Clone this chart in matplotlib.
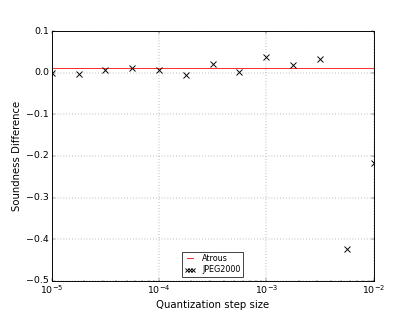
import matplotlib
matplotlib.use("Agg")
import matplotlib.pyplot as plt

plt.style.use('classic')

# quantization step sizes and soundness differences (JPEG2000 - reference)
step_sizes = [1.0e-5, 1.78e-5, 3.16e-5, 5.62e-5, 1.0e-4, 1.78e-4, 3.16e-4,
              5.62e-4, 1.0e-3, 1.78e-3, 3.16e-3, 5.62e-3, 1.0e-2]
jpeg2000 = [0.0, -0.002, 0.006, 0.011, 0.006, -0.006, 0.021,
            0.001, 0.037, 0.018, 0.032, -0.423, -0.218]
atrous = 0.0127

fig = plt.figure(figsize=(415 / 52, 6), dpi=52, facecolor='white')
ax = fig.add_subplot(111)

ax.axhline(atrous, color='#ff3030', lw=1.4, label='Atrous')
ax.plot(step_sizes, jpeg2000, 'kx', linestyle='none', ms=7, mew=1.3,
        label='JPEG2000')

ax.set_xscale('log')
ax.set_xlim(1e-5, 1e-2)
ax.set_ylim(-0.5, 0.1)
ax.set_xlabel('Quantization step size', fontsize=14)
ax.set_ylabel('Soundness Difference', fontsize=14)
ax.tick_params(labelsize=13)
for s in ax.spines.values():
    s.set_linewidth(1.3)
ax.grid(True)
ax.legend(loc='lower center', numpoints=3, prop={'size': 11},
          handlelength=1.4, markerscale=0.6, borderpad=0.3, labelspacing=0.3)

fig.savefig('out.png', dpi=52, facecolor='white')
